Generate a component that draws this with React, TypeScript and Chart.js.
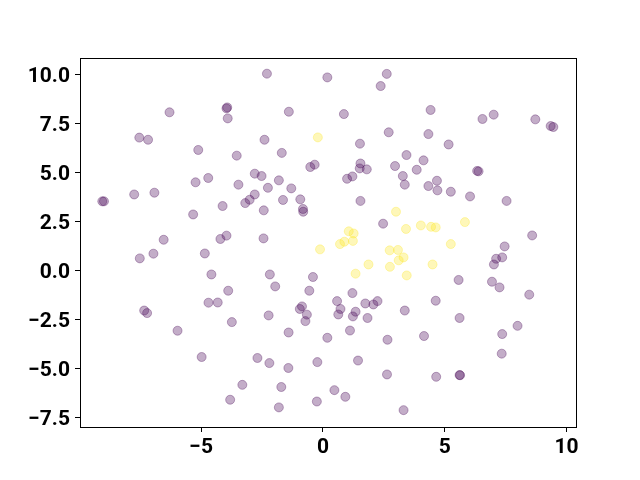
import React, { useEffect, useRef } from "react";
import { Chart, registerables } from "chart.js";

Chart.register(...registerables);

const purpleX = [
  -6.30, -3.93, -3.96, -3.91, -7.54, -7.18, -5.12, -3.54, -4.71, -5.23, -3.47, -9.06, -8.99, -7.75, -6.92, -4.12, -5.33, -6.54, -4.21, -3.96,
  -2.30, 0.18, 2.62, 2.37, -1.40, 0.86, -2.40, 2.70, 1.52, -1.69, 3.43, -0.52, -0.34, 1.54, 1.51, 1.80, 2.96, 0.99, 1.21, 3.28,
  3.36, -2.80, -2.52, -2.26, -1.81, -1.30, -2.80, -3.01, -3.19, -1.64, -0.93, -0.82, -0.81, -2.43, 1.54, 2.47, -2.44, 4.42, 6.55, 7.01,
  8.72, 9.35, 9.46, 4.33, 5.16, 4.13, 3.85, 6.33, 6.39, 4.33, 4.68, 4.70, 5.25, 6.04, 7.54, 8.59, 7.46, -7.52, -6.96, -4.85,
  -4.58, -3.89, -4.70, -4.32, -7.34, -7.22, -3.74, -5.97, -4.98, -3.31, -3.81, -2.18, -1.96, -0.41, -0.56, 1.21, 0.58, 1.74, 2.07, 2.24,
  3.36, -0.95, -0.86, -0.66, -0.72, 0.72, 0.63, 1.34, 1.23, 1.83, -2.23, -1.41, 0.18, 1.11, 2.65, -2.69, -2.20, -1.42, -0.23, 1.44,
  2.63, -1.71, 0.47, 0.92, -1.81, -0.25, 3.31, 7.11, 7.36, 7.02, 5.57, 6.94, 7.25, 8.47, 4.63, 5.61, 7.99, 7.36, 4.15, 7.34,
  4.65, 5.61, 5.63,
];
const purpleY = [
  8.08, 8.33, 8.28, 7.77, 6.79, 6.68, 6.16, 5.87, 4.73, 4.51, 4.39, 3.54, 3.54, 3.89, 3.98, 3.30, 2.87, 1.58, 1.62, 1.79,
  10.05, 9.86, 10.04, 9.42, 8.11, 7.99, 6.68, 7.06, 6.48, 6.01, 5.90, 5.29, 5.41, 5.47, 5.22, 5.17, 5.34, 4.69, 4.81, 4.83,
  4.39, 4.95, 4.83, 4.23, 4.61, 4.20, 3.89, 3.62, 3.45, 3.61, 3.64, 3.15, 3.01, 3.08, 3.56, 2.40, 1.65, 8.20, 7.74, 7.96,
  7.72, 7.38, 7.33, 6.97, 6.44, 5.63, 5.15, 5.09, 5.07, 4.32, 4.59, 4.10, 4.03, 3.79, 3.56, 1.80, 1.24, 0.63, 0.87, 0.88,
  -0.19, -1.02, -1.63, -1.62, -2.03, -2.16, -2.62, -3.06, -4.40, -5.82, -6.58, -0.19, -0.80, -0.32, -1.02, -1.14, -1.55, -1.67, -1.72, -1.55,
  -2.03, -1.95, -1.82, -2.24, -2.57, -1.95, -2.23, -2.09, -2.33, -2.41, -2.28, -3.15, -3.42, -3.05, -3.52, -4.45, -4.71, -4.96, -4.66, -4.58,
  -5.29, -5.93, -6.09, -6.43, -6.97, -6.67, -7.11, 0.61, 0.68, 0.32, -0.47, -0.56, -0.85, -1.22, -1.53, -2.41, -2.81, -3.23, -3.33, -4.23,
  -5.41, -5.32, -5.33,
];

const yellowX = [-0.21, 3.00, 3.41, 1.06, 1.26, 1.23, 0.88, 0.70, -0.12, 4.02, 4.44, 4.63, 5.83, 5.25, 2.74, 3.08, 3.31, 3.11, 2.75, 1.87, 1.34, 3.44, 4.50];
const yellowY = [6.80, 3.01, 2.13, 2.01, 1.90, 1.52, 1.48, 1.36, 1.09, 2.31, 2.24, 2.21, 2.48, 1.36, 1.04, 1.06, 0.68, 0.53, 0.20, 0.32, -0.15, -0.24, 0.32];

const xTicks = [-5, 0, 5, 10];
const yTicks = [-7.5, -5.0, -2.5, 0.0, 2.5, 5.0, 7.5, 10.0];

const X_MIN = -9.975;
const X_MAX = 10.39;
const Y_MIN = -7.97;
const Y_MAX = 10.85;

const minus = (s: string) => s.replace("-", "\u2212");

const boxPlugin = {
  id: "boxPlugin",
  afterDraw(chart: any) {
    const { ctx, chartArea } = chart;
    ctx.save();
    ctx.strokeStyle = "#000";
    ctx.lineWidth = 1;
    ctx.strokeRect(
      Math.round(chartArea.left) + 0.5,
      Math.round(chartArea.top) + 0.5,
      Math.round(chartArea.right - chartArea.left),
      Math.round(chartArea.bottom - chartArea.top)
    );
    ctx.restore();
  },
};

export default function App() {
  const ref = useRef<HTMLCanvasElement | null>(null);

  useEffect(() => {
    if (!ref.current) return;
    const purple = purpleX.map((x, i) => ({ x, y: purpleY[i] }));
    const yellow = yellowX.map((x, i) => ({ x, y: yellowY[i] }));
    const font = { family: "Roboto", size: 21, weight: "bold" as const };
    const chart = new Chart(ref.current, {
      type: "scatter",
      data: {
        datasets: [
          {
            data: purple,
            backgroundColor: "rgba(68,1,84,0.32)",
            borderColor: "rgba(68,1,84,0.32)",
            borderWidth: 1,
            pointRadius: 4.5,
          },
          {
            data: yellow,
            backgroundColor: "rgba(253,231,37,0.32)",
            borderColor: "rgba(253,231,37,0.32)",
            borderWidth: 1,
            pointRadius: 4.5,
          },
        ],
      },
      options: {
        animation: false,
        responsive: false,
        maintainAspectRatio: false,
        layout: { padding: { left: 0, right: 64, top: 58, bottom: 0 } },
        plugins: { legend: { display: false }, tooltip: { enabled: false } },
        scales: {
          x: {
            type: "linear",
            min: X_MIN,
            max: X_MAX,
            afterFit: (s: any) => {
              s.height = 53;
            },
            afterBuildTicks: (s: any) => {
              s.ticks = xTicks.map((v) => ({ value: v }));
            },
            ticks: {
              color: "#000",
              font,
              padding: 3,
              includeBounds: false,
              maxRotation: 0,
              callback: (v: any) => minus(String(v)),
            },
            grid: { drawOnChartArea: false, drawTicks: true, tickLength: 5, color: "#000" },
            border: { color: "#000", width: 1 },
          },
          y: {
            type: "linear",
            min: Y_MIN,
            max: Y_MAX,
            afterFit: (s: any) => {
              s.width = 80;
            },
            afterBuildTicks: (s: any) => {
              s.ticks = yTicks.map((v) => ({ value: v }));
            },
            ticks: {
              color: "#000",
              font,
              padding: 5,
              labelOffset: 2,
              includeBounds: false,
              callback: (v: any) => minus(Number(v).toFixed(1)),
            },
            grid: { drawOnChartArea: false, drawTicks: true, tickLength: 5, color: "#000" },
            border: { color: "#000", width: 1 },
          },
        },
      },
      plugins: [boxPlugin],
    });
    return () => chart.destroy();
  }, []);

  return (
    <div style={{ position: "fixed", left: 0, top: 0, width: 640, height: 480, background: "#fff" }}>
      <canvas ref={ref} width={640} height={480} style={{ display: "block", width: 640, height: 480 }} />
    </div>
  );
}
